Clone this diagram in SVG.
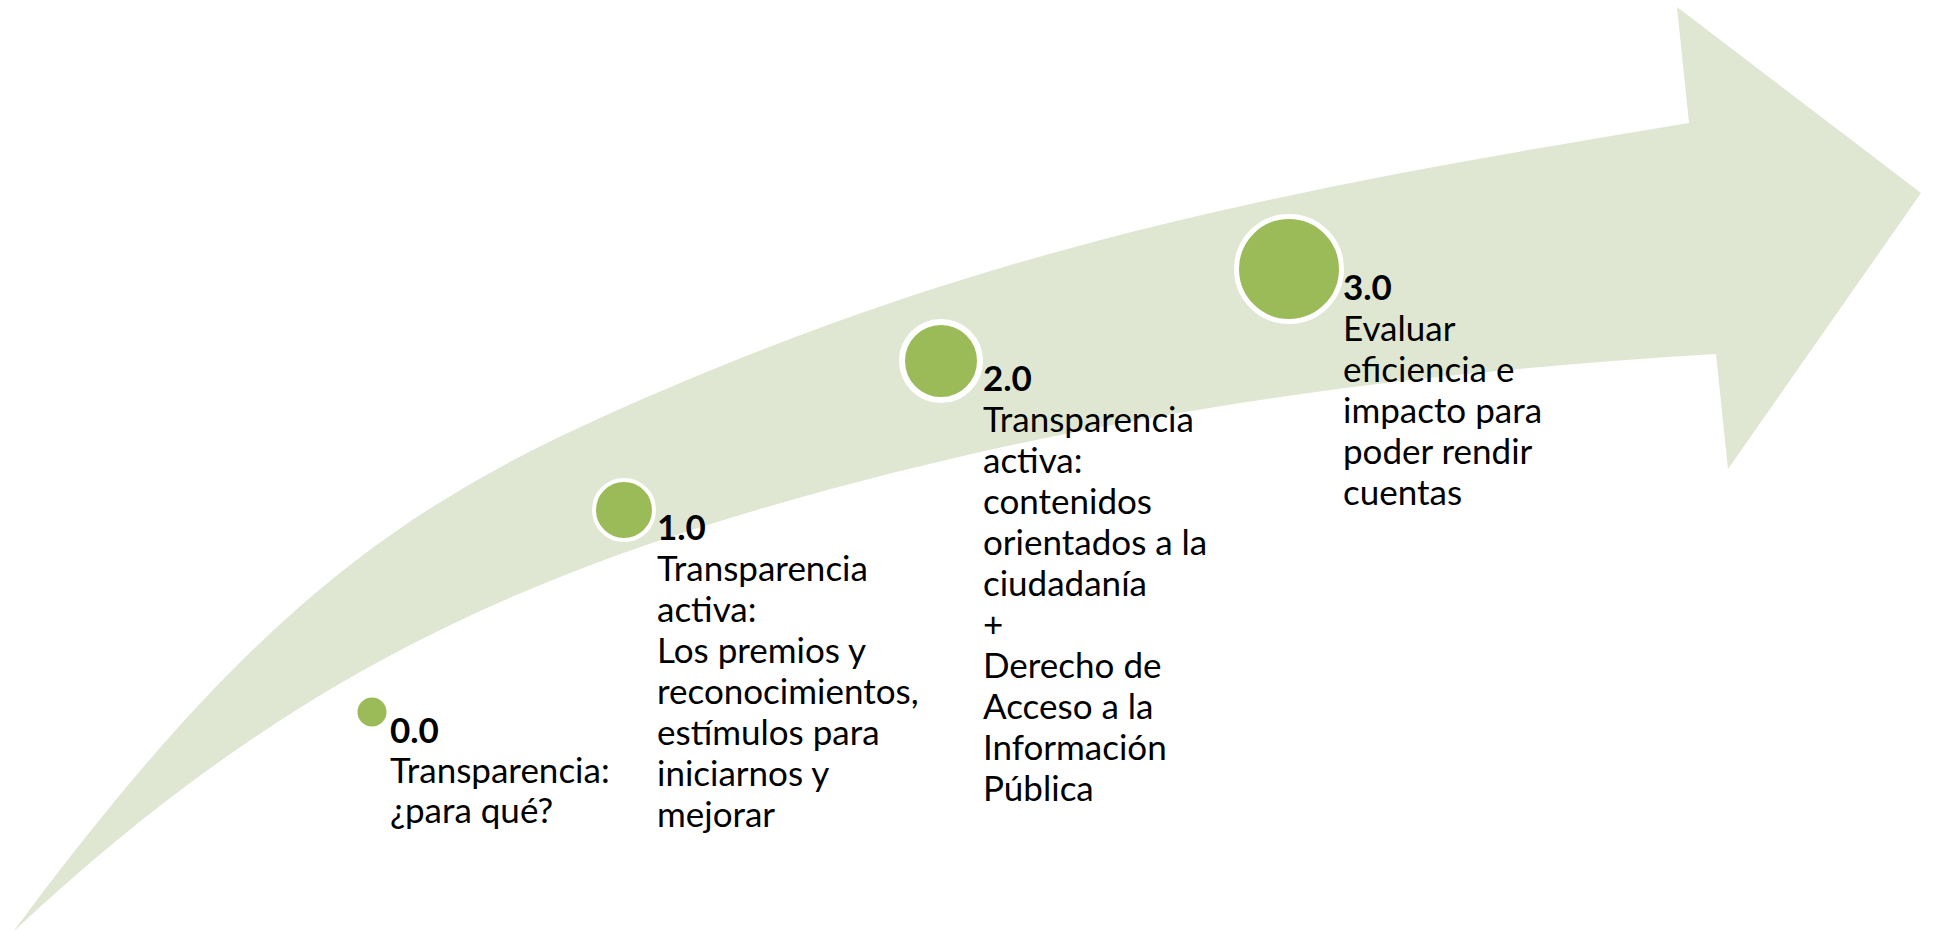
<svg xmlns="http://www.w3.org/2000/svg" width="1933" height="932" viewBox="0 0 1933 932">
<style>
.band{fill:#DFE7D2;stroke:none}
.dot{fill:#9BBB59;stroke:#FFFFFF}
.t{font-family:Lato,"Liberation Sans",sans-serif;font-size:35px;fill:#000000}
.b{font-weight:bold}
</style>
<rect width="1933" height="932" fill="#FFFFFF"/>
<g id="connectors">
<path id="arrow" class="band" d="M13,932 C233,635 380,517 600,418 C975,249 1269,192 1689,123 L1677,7 L1921,193 L1728,469 L1716,354 C1396,373 1087,414 767,507 C487,588 263,697 13,932 Z"/>
</g>
<g id="step0">
<circle class="dot" cx="372" cy="712" r="14.5" stroke-width="0"/>
<text class="t"><tspan class="b" x="390" y="743">0.0</tspan><tspan x="390" y="783">Transparencia:</tspan><tspan x="390" y="823">¿para qué?</tspan></text>
</g>
<g id="step1">
<circle class="dot" cx="624" cy="510" r="30" stroke-width="4"/>
<text class="t"><tspan class="b" x="657" y="540">1.0</tspan><tspan x="657" y="581">Transparencia</tspan><tspan x="657" y="622">activa:</tspan><tspan x="657" y="663">Los premios y</tspan><tspan x="657" y="704">reconocimientos,</tspan><tspan x="657" y="745">estímulos para</tspan><tspan x="657" y="786">iniciarnos y</tspan><tspan x="657" y="827">mejorar</tspan></text>
</g>
<g id="step2">
<circle class="dot" cx="941" cy="361" r="39" stroke-width="6"/>
<text class="t"><tspan class="b" x="983" y="391">2.0</tspan><tspan x="983" y="432">Transparencia</tspan><tspan x="983" y="473">activa:</tspan><tspan x="983" y="514">contenidos</tspan><tspan x="983" y="555">orientados a la</tspan><tspan x="983" y="596">ciudadanía</tspan><tspan x="983" y="637">+</tspan><tspan x="983" y="678">Derecho de</tspan><tspan x="983" y="719">Acceso a la</tspan><tspan x="983" y="760">Información</tspan><tspan x="983" y="801">Pública</tspan></text>
</g>
<g id="step3">
<circle class="dot" cx="1289" cy="269" r="52.5" stroke-width="5"/>
<text class="t"><tspan class="b" x="1343" y="300">3.0</tspan><tspan x="1343" y="341">Evaluar</tspan><tspan x="1343" y="382">eficiencia e</tspan><tspan x="1343" y="423">impacto para</tspan><tspan x="1343" y="464">poder rendir</tspan><tspan x="1343" y="505">cuentas</tspan></text>
</g>
</svg>
